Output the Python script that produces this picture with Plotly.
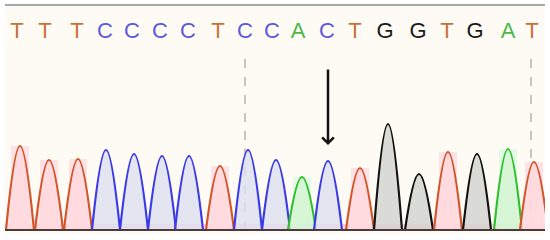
import plotly.graph_objects as go

# 碱基序列与峰值数据
bases = list("TTTCCCCTCCACTGGTGAT")
peak_pos = [20, 49, 78, 106, 134, 162, 189, 220, 248, 276, 302, 328, 360, 388, 419, 448, 477, 508, 534]
peak_height = [84, 70, 71, 80, 76, 74, 74, 64, 80, 70, 53, 69, 62, 106, 56, 78, 76, 81, 68]
letter_pos = [17, 45, 77, 105, 132, 160, 188, 218, 245, 272, 298, 327, 355, 385, 418, 447, 475, 508, 532]
marker_lines = [245, 531]
arrow_base = 328

HALF_W = 14
LETTER_Y = 198

line_colors = {'A': '#2fbf2f', 'C': '#3a3ae6', 'G': '#111111', 'T': '#d2552c'}
fill_colors = {'A': 'rgba(210,245,210,0.8)', 'C': 'rgba(220,224,240,0.8)',
               'G': 'rgba(212,212,208,0.85)', 'T': 'rgba(255,218,222,0.8)'}
box_colors = {'A': 'rgba(215,250,222,0.7)', 'T': 'rgba(255,215,222,0.7)'}
text_colors = {'A': '#4cb84c', 'C': '#5a5ae0', 'G': '#1a1a1a', 'T': '#c8703a'}

fig = go.Figure()

# 底部粉色带
fig.add_shape(type='rect', x0=5, x1=545, y0=0, y1=6,
              fillcolor='rgba(255,205,220,0.9)', line_width=0, layer='below')

# T / A 峰后面的高亮框
for b in ('T', 'A'):
    xs = [c for bb, c in zip(bases, peak_pos) if bb == b]
    hs = [h for bb, h in zip(bases, peak_height) if bb == b]
    fig.add_trace(go.Bar(
        x=xs, y=hs, width=18,
        marker=dict(color=box_colors[b], line_width=0),
        hoverinfo='skip'
    ))

# 每个碱基一条峰
for b, c, h in zip(bases, peak_pos, peak_height):
    fig.add_trace(go.Scatter(
        x=[c - HALF_W, c, c + HALF_W],
        y=[0, h, 0],
        mode='lines',
        line=dict(color=line_colors[b], width=2.2, shape='spline', smoothing=1.25),
        fill='toself',
        fillcolor=fill_colors[b],
        hoverinfo='skip'
    ))

# 基线
fig.add_trace(go.Scatter(
    x=[5, 545], y=[0, 0], mode='lines',
    line=dict(color='#4a3a3a', width=2), hoverinfo='skip'
))

# 碱基字母
fig.add_trace(go.Scatter(
    x=letter_pos,
    y=[LETTER_Y] * len(bases),
    mode='text',
    text=bases,
    textfont=dict(family='Liberation Sans, Arial', size=22,
                  color=[text_colors[b] for b in bases]),
    hoverinfo='skip'
))

# 虚线标记
for xm in marker_lines:
    fig.add_shape(type='line', x0=xm, x1=xm, y0=0, y1=180,
                  line=dict(color='#b4b4b4', width=1.5, dash='dash'), layer='below')

# 顶部灰线
fig.add_shape(type='line', xref='paper', yref='paper', x0=0, x1=1, y0=1, y1=1,
              line=dict(color='#a8a8a8', width=2))

# 箭头
fig.add_annotation(
    x=arrow_base, y=85, ax=arrow_base, ay=162,
    xref='x', yref='y', axref='x', ayref='y',
    showarrow=True, arrowhead=4, arrowsize=0.9, arrowwidth=2.5, arrowcolor='#111111',
    text=''
)

fig.update_layout(
    width=550, height=240,
    margin=dict(l=5, r=5, t=5, b=6),
    paper_bgcolor='white',
    plot_bgcolor='#fdfbf4',
    showlegend=False,
    barmode='overlay'
)
fig.update_xaxes(range=[5, 545], visible=False, fixedrange=True)
fig.update_yaxes(range=[-4, 225], visible=False, fixedrange=True)

fig.write_html("out.html", config={'displayModeBar': False},
               post_script="document.body.style.margin='0';")
